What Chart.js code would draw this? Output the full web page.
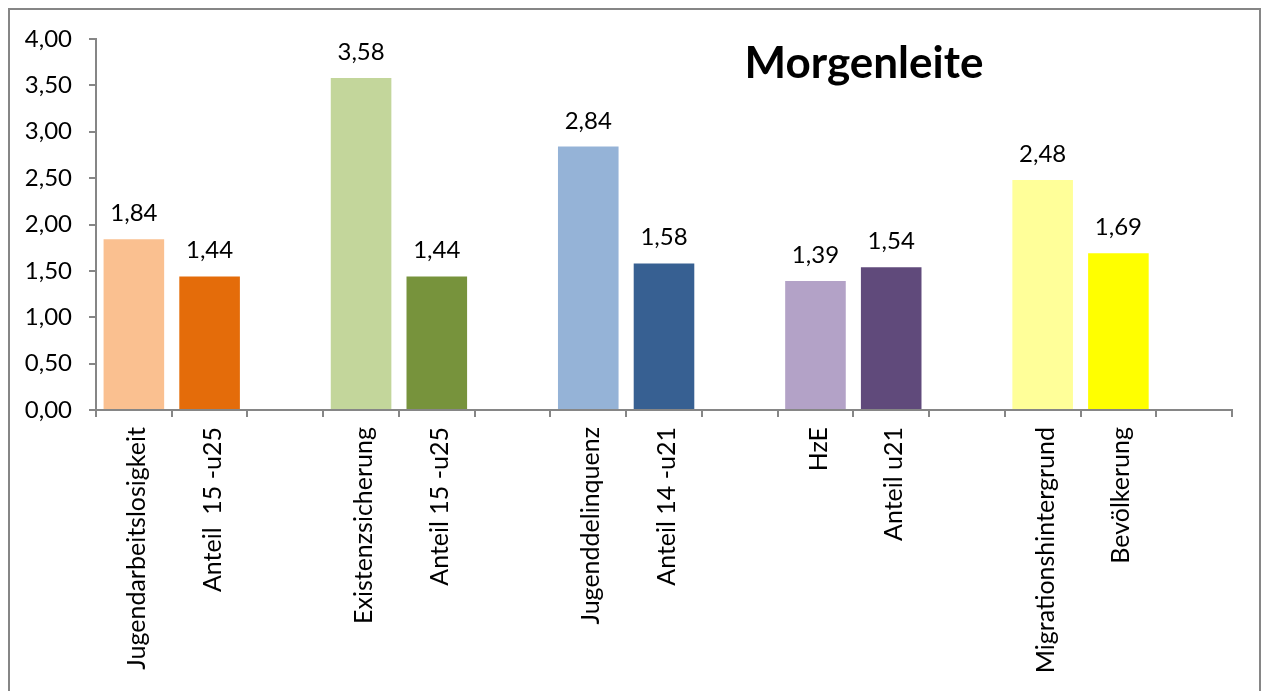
<!DOCTYPE html>
<html>
<head>
<meta charset="utf-8">
<script src="https://cdn.jsdelivr.net/npm/chart.js@4.4.0/dist/chart.umd.min.js"></script>
<style>
  html, body { margin: 0; padding: 0; background: #fff; }
  #wrap { width: 1263px; height: 691px; }
</style>
</head>
<body>
<div id="wrap"><canvas id="chart"></canvas></div>
<script>
const categories = [
  'Jugendarbeitslosigkeit', 'Anteil  15 -u25', '',
  'Existenzsicherung', 'Anteil 15 -u25', '',
  'Jugenddelinquenz', 'Anteil 14 -u21', '',
  'HzE', 'Anteil u21', '',
  'Migrationshintergrund', 'Bevölkerung', ''
];
const values = [1.84, 1.44, null, 3.58, 1.44, null, 2.84, 1.58, null, 1.39, 1.54, null, 2.48, 1.69, null];
const barColors = [
  '#FAC090', '#E46C0A', '#FFFFFF',
  '#C3D69B', '#77933C', '#FFFFFF',
  '#95B3D7', '#376092', '#FFFFFF',
  '#B3A2C7', '#604A7B', '#FFFFFF',
  '#FFFF99', '#FFFF00', '#FFFFFF'
];
const yTicks = [0, 0.5, 1, 1.5, 2, 2.5, 3, 3.5, 4];
const chartTitle = 'Morgenleite';

const FONT = 'Lato, Calibri, Carlito, sans-serif';
const fmt = v => v.toFixed(2).replace('.', ',');

// frame, title and value labels, drawn like the Excel original
const extras = {
  id: 'extras',
  beforeDraw(chart) {
    const ctx = chart.ctx;
    ctx.save();
    ctx.fillStyle = '#fff';
    ctx.fillRect(0, 0, chart.width, chart.height);
    ctx.strokeStyle = '#868686';
    ctx.lineWidth = 2;
    ctx.strokeRect(9, 9, 1251, 720);
    ctx.restore();
  },
  afterDatasetsDraw(chart) {
    const ctx = chart.ctx;
    const meta = chart.getDatasetMeta(0);
    ctx.save();
    ctx.fillStyle = '#000';
    ctx.font = '24px ' + FONT;
    ctx.textAlign = 'center';
    ctx.textBaseline = 'alphabetic';
    meta.data.forEach((bar, i) => {
      if (values[i] == null) return;
      ctx.fillText(fmt(values[i]), bar.x, bar.y - 18);
    });
    ctx.font = 'bold 44px ' + FONT;
    ctx.textBaseline = 'middle';
    ctx.fillText(chartTitle, 864, 64);
    ctx.restore();
  }
};

new Chart(document.getElementById('chart'), {
  type: 'bar',
  data: {
    labels: categories,
    datasets: [{
      data: values,
      backgroundColor: barColors,
      borderWidth: 0,
      barPercentage: 0.8,
      categoryPercentage: 1
    }]
  },
  options: {
    responsive: true,
    maintainAspectRatio: false,
    animation: false,
    layout: { padding: { top: 39, right: 31, bottom: 0, left: 0 } },
    plugins: {
      legend: { display: false },
      tooltip: { enabled: false }
    },
    scales: {
      x: {
        offset: true,
        grid: {
          offset: true,
          drawOnChartArea: false,
          drawTicks: true,
          tickLength: 7,
          color: '#868686',
          lineWidth: 2
        },
        border: { color: '#868686', width: 2 },
        ticks: {
          autoSkip: false,
          minRotation: 90,
          maxRotation: 90,
          padding: 10,
          labelOffset: 3,
          color: '#000',
          font: { family: FONT, size: 25 }
        },
        afterFit(scale) { scale.height = 691 - 410; }
      },
      y: {
        min: 0,
        max: 4,
        afterBuildTicks(scale) { scale.ticks = yTicks.map(v => ({ value: v })); },
        grid: {
          drawOnChartArea: false,
          drawTicks: true,
          tickLength: 7,
          color: '#868686',
          lineWidth: 2
        },
        border: { color: '#868686', width: 2 },
        ticks: {
          padding: 17,
          color: '#000',
          font: { family: FONT, size: 24 },
          callback: v => fmt(v)
        },
        afterFit(scale) { scale.width = 96; }
      }
    }
  },
  plugins: [extras]
});
</script>
</body>
</html>
